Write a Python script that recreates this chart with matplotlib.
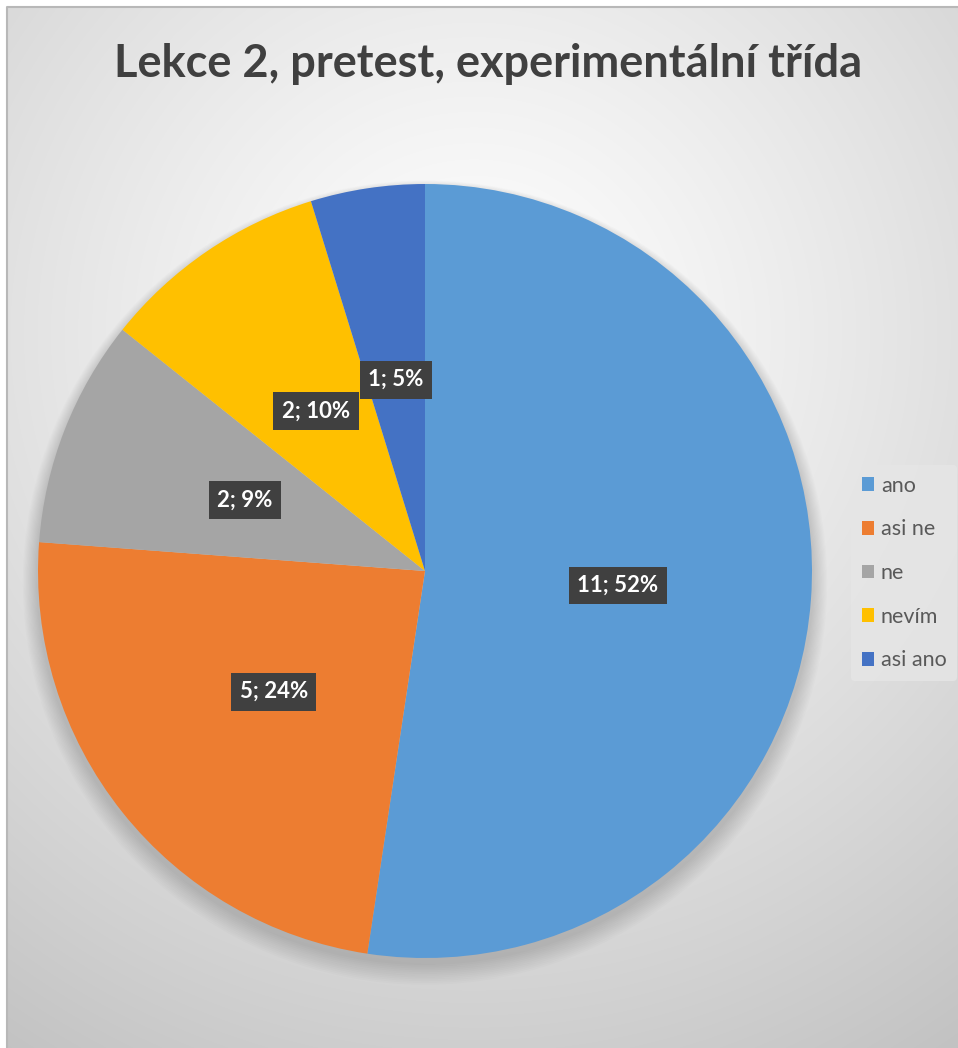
import matplotlib.pyplot as plt
import numpy as np

categories = ["ano", "asi ne", "ne", "nevím", "asi ano"]
counts = [11, 5, 2, 2, 1]
pct_labels = ["52%", "24%", "9%", "10%", "5%"]
colors = ["#5B9BD5", "#ED7D31", "#A5A5A5", "#FFC000", "#4472C4"]
title = "Lekce 2, pretest, experimentální třída"

W, H = 958, 1048
fig = plt.figure(figsize=(W / 100, H / 100), dpi=100)
fig.patch.set_facecolor("white")
ax = fig.add_axes([0, 0, 1, 1])
ax.set_xlim(0, W)
ax.set_ylim(0, H)
ax.axis("off")

# radial background gradient (chart area starts ~7px from left/top)
yy, xx = np.mgrid[0:H, 0:W]
d = np.hypot(xx - 470, yy - (H - 330)) / 900.0
g = np.clip(1.0 - 0.25 * d ** 1.2, 0, 1)
ax.imshow(np.dstack([g, g, g]), extent=(7, W, 0, H - 7), origin="lower",
          zorder=0, aspect="auto")
ax.plot([7, 7, W], [0, H - 7, H - 7], color="#b8b8b8", lw=1.5, zorder=1)

# soft shadow under the pie
for i in range(12):
    ax.add_patch(plt.Circle((425, H - 576 - i * 0.6), 389 + i * 1.2,
                            color="black", alpha=0.012, lw=0, zorder=2))

labels = ["%d; %s" % (c, p) for c, p in zip(counts, pct_labels)]
wedges, texts = ax.pie(counts, colors=colors, startangle=90, counterclock=False,
                       center=(425, H - 571), radius=387, labels=labels,
                       labeldistance=0.5, frame=True,
                       wedgeprops=dict(linewidth=0, zorder=3),
                       textprops=dict(color="white", fontsize=16, fontweight="bold",
                                      family=["Lato", "DejaVu Sans"], ha="center",
                                      va="center", zorder=5))
for t in texts:
    t.set_bbox(dict(boxstyle="square,pad=0.38", fc="#404040", ec="none"))
    t.set_zorder(5)
ax.set_xlim(0, W)
ax.set_ylim(0, H)
ax.set_aspect("auto")
ax.axis("off")

ax.text(488, H - 64, title, ha="center", va="center", fontsize=32.5,
        fontweight="bold", color="#404040", family=["Lato", "DejaVu Sans"], zorder=5)

leg = ax.legend(wedges, categories, loc="center left",
                bbox_to_anchor=(840 / W, (H - 573) / H), frameon=True,
                labelcolor="#595959", handlelength=0.6,
                handleheight=0.6, handletextpad=0.3, labelspacing=1.1,
                borderpad=0.5, prop=dict(family="Lato", size=15.5))
leg.get_frame().set_facecolor("#e6e6e6")
leg.get_frame().set_edgecolor("none")
leg.get_frame().set_alpha(0.8)
leg.set_zorder(6)

fig.savefig("out.png", dpi=100)
